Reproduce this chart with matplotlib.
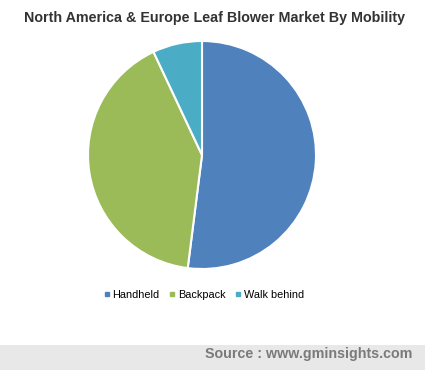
import matplotlib
matplotlib.use("Agg")
import matplotlib.pyplot as plt
from matplotlib.patches import Rectangle
from matplotlib.lines import Line2D

categories = ["Handheld", "Backpack", "Walk behind"]
values = [52, 41, 7]
colors = ["#4F81BD", "#9BBB59", "#4BACC6"]

W, H = 425, 370
fig = plt.figure(figsize=(W / 100, H / 100), dpi=100)
fig.patch.set_facecolor("white")

# pie axes: center (202,155), radius ~114
cx, cy, r = 202, 155, 114
ax = fig.add_axes([(cx - r) / W, 1 - (cy + r) / H, 2 * r / W, 2 * r / H])
ax.pie(values, colors=colors, startangle=90, counterclock=False,
       wedgeprops=dict(edgecolor="white", linewidth=1.5))
ax.set_aspect("equal")
ax.set_xlim(-1, 1)
ax.set_ylim(-1, 1)
ax.axis("off")

fig.text(215 / W, 1 - 18 / H, "North America & Europe Leaf Blower Market By Mobility",
         ha="center", va="center", fontsize=10.3, fontweight="bold", color="#333333",
         family="Liberation Sans")

handles = [Line2D([0], [0], marker="s", linestyle="none", markersize=3.5,
                  markerfacecolor=c, markeredgecolor=c) for c in colors]
fig.legend(handles, categories, loc="center", bbox_to_anchor=(204 / W, 1 - 295 / H),
           ncol=3, frameon=False, handlelength=0.5, handletextpad=0.3,
           columnspacing=0.9,
           prop=dict(family="Liberation Sans", size=7.8))

fig.patches.append(Rectangle((0, 0), 1, 25 / H, transform=fig.transFigure,
                             facecolor="#E8E8E8", edgecolor="none", zorder=0))
fig.text(412 / W, 1 - 354 / H, "Source : www.gminsights.com", ha="right", va="center",
         fontsize=10.3, fontweight="bold", color="#7A7A7A", family="Liberation Sans")

fig.savefig("out.png", dpi=100)
